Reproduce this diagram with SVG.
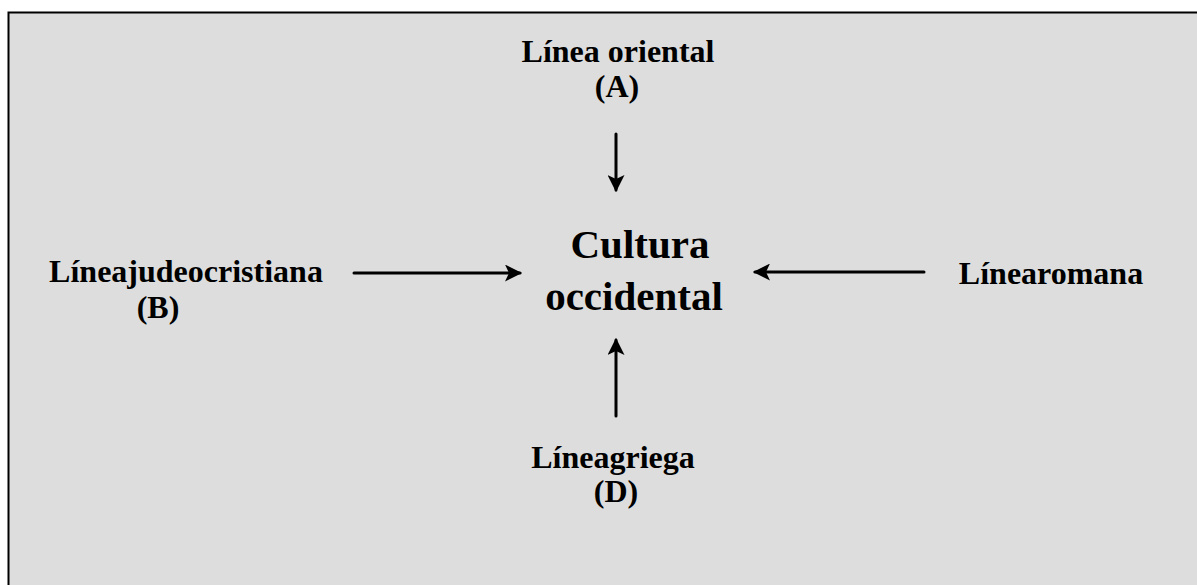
<svg xmlns="http://www.w3.org/2000/svg" width="1197" height="585" viewBox="0 0 1197 585">
<style>
.t{font-family:"Liberation Serif","Times New Roman",serif;font-weight:bold;font-size:32px;fill:#000;text-anchor:middle}
.big{font-size:41px}
.c{stroke:#000;stroke-width:3;fill:none;stroke-linecap:round}
</style>
<defs>
<marker id="ah" viewBox="0 0 17 17" refX="15" refY="8.5" markerWidth="17" markerHeight="17" markerUnits="userSpaceOnUse" orient="auto">
<path d="M0,0 L17,8.5 L0,17 L4,8.5 Z" fill="#000"/>
</marker>
</defs>
<rect x="0" y="0" width="1197" height="585" fill="#fff"/>
<rect x="8.5" y="12.5" width="1200" height="590" fill="#dddddd" stroke="#000" stroke-width="2"/>
<g id="node-oriental"><text class="t" x="618" y="62">Línea oriental</text><text class="t" x="617" y="97">(A)</text></g>
<g id="node-judeo"><text class="t" x="186" y="282">Líneajudeocristiana</text><text class="t" x="158" y="318">(B)</text></g>
<g id="node-cultura"><text class="t big" x="640" y="258">Cultura</text><text class="t big" x="634" y="310">occidental</text></g>
<g id="node-romana"><text class="t" x="1051" y="284">Línearomana</text></g>
<g id="node-griega"><text class="t" x="613" y="468">Líneagriega</text><text class="t" x="616" y="502">(D)</text></g>
<g id="connectors">
<line class="c" x1="616" y1="134" x2="616" y2="190" marker-end="url(#ah)"/>
<line class="c" x1="354" y1="273" x2="520" y2="273" marker-end="url(#ah)"/>
<line class="c" x1="924" y1="272" x2="755" y2="272" marker-end="url(#ah)"/>
<line class="c" x1="616" y1="416" x2="616" y2="340" marker-end="url(#ah)"/>
</g>
</svg>
